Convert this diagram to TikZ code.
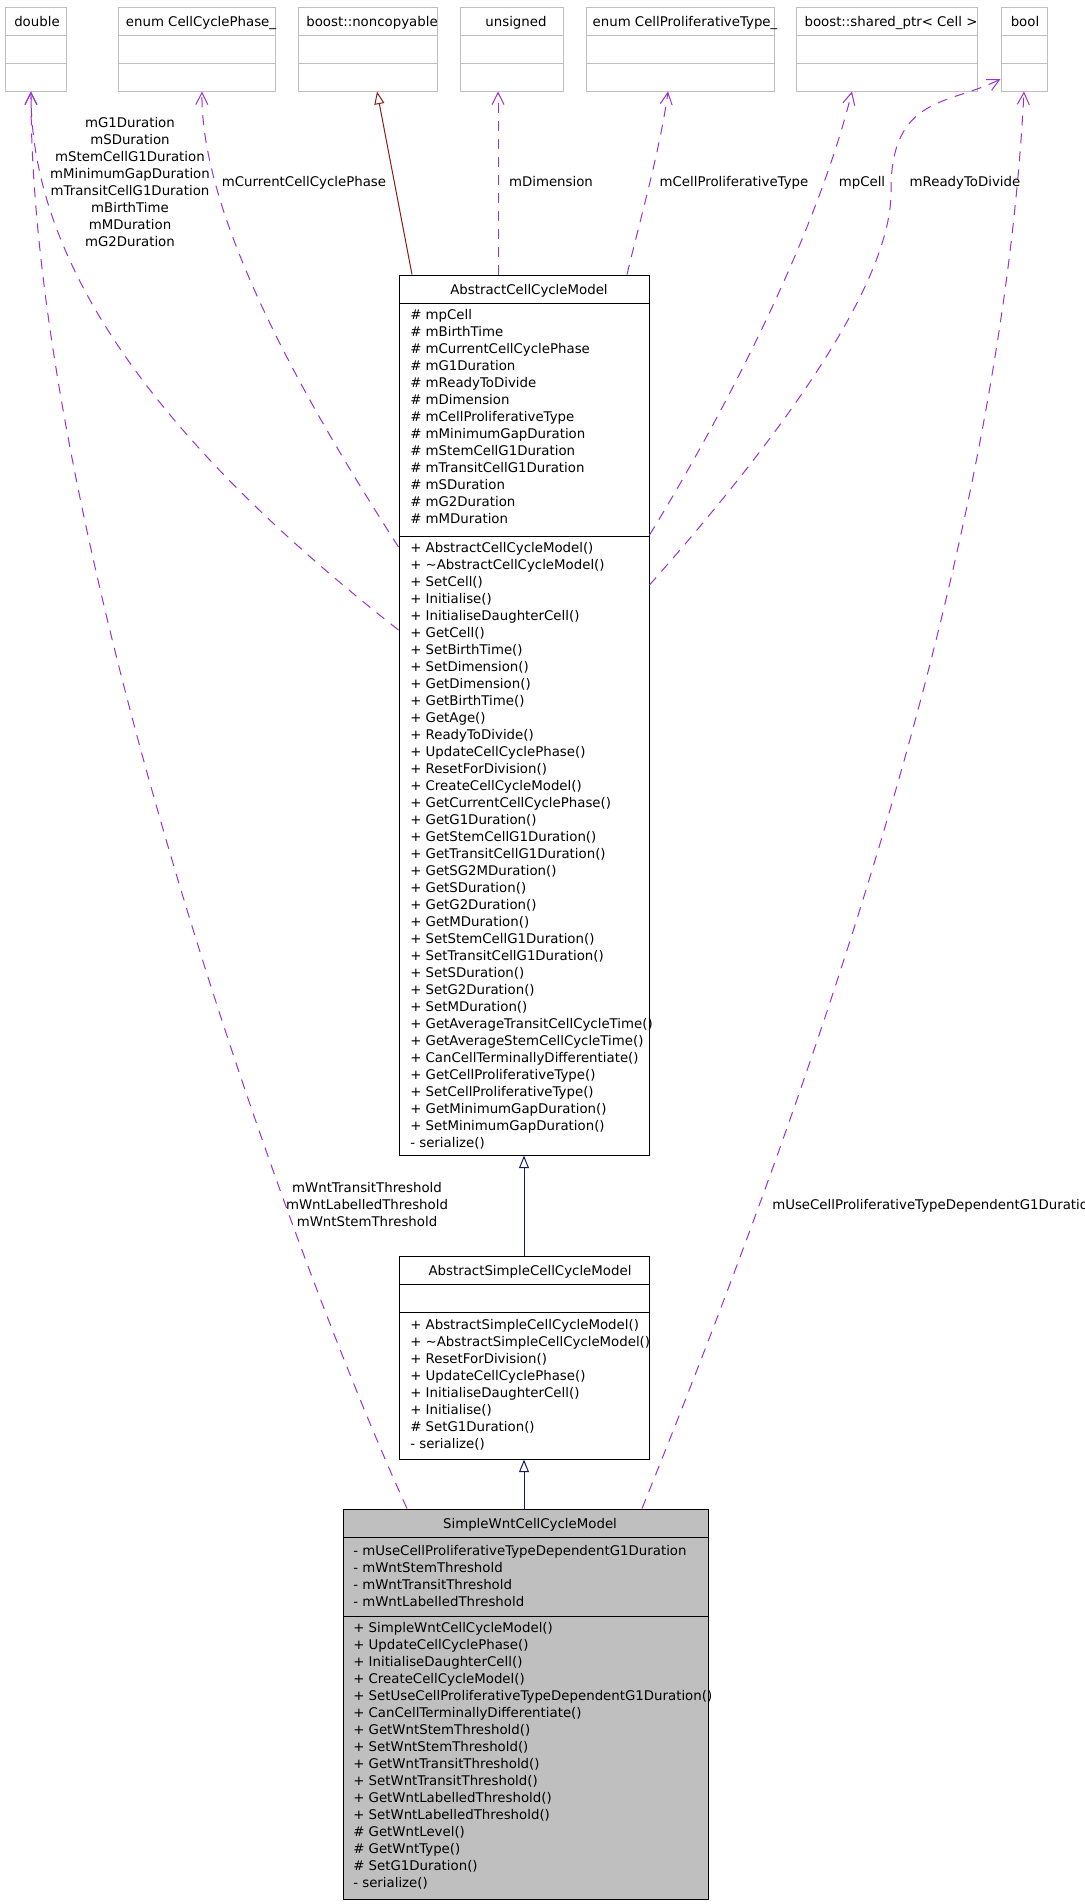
\documentclass[tikz,border=0pt]{standalone}
\usepackage{fontspec}
\setmainfont{DejaVu Sans}
\usepackage{tikz}
\usetikzlibrary{arrows.meta,fit}

\definecolor{edgepurple}{HTML}{9A32CD}
\definecolor{inhblue}{HTML}{191970}
\definecolor{inhred}{HTML}{8B1A1A}
\definecolor{boxgray}{HTML}{BFBFBF}

\begin{document}
\begin{tikzpicture}[x=0.75pt, y=-0.75pt, font=\fontsize{10}{12.75}\selectfont,
    classbox/.style={draw=black, line width=0.75pt, inner sep=0pt},
    typebox/.style={draw=boxgray, line width=0.75pt, inner sep=0pt},
    clsname/.style={anchor=base, inner sep=0pt},
    member/.style={anchor=base west, inner sep=0pt},
    lbl/.style={align=center, inner sep=0pt},
    uses/.style={edgepurple, line width=0.75pt, dash pattern=on 7.5pt off 6pt,
        -{Straight Barb[length=9pt, width=9pt]}},
    inherits/.style={line width=0.75pt, -{Triangle[open, length=9.5pt, width=7.5pt, fill=white]}}]
    \useasboundingbox (0,0) rectangle (1085,1904);

    % Member types along the top
    \node[typebox, fit={(5,7) (66,91)}] (dbl) {};
    \node[typebox, fit={(118,7) (275,91)}] (ccp) {};
    \node[typebox, fit={(298,7) (437,91)}] (nc) {};
    \node[typebox, fit={(460,7) (563,91)}] (uns) {};
    \node[typebox, fit={(586,7) (774,91)}] (cpt) {};
    \node[typebox, fit={(796,7) (977,91)}] (shp) {};
    \node[typebox, fit={(1001,7) (1047,91)}] (boolt) {};
    \foreach \b in {dbl,ccp,nc,uns,cpt,shp,boolt}
        \draw[boxgray, line width=0.75pt] (\b.west |- 0,35) -- (\b.east |- 0,35)
            (\b.west |- 0,63) -- (\b.east |- 0,63);
    \node[clsname] (dbl-name) at (37,26) {double};
    \node[clsname] (ccp-name) at (201,26) {enum CellCyclePhase\_};
    \node[clsname] (nc-name) at (372,26) {boost::noncopyable};
    \node[clsname] (uns-name) at (516,26) {unsigned};
    \node[clsname] (cpt-name) at (685,26) {enum CellProliferativeType\_};
    \node[clsname] (shp-name) at (891,26) {boost::shared\_ptr< Cell >};
    \node[clsname] (boolt-name) at (1025,26) {bool};

    % AbstractCellCycleModel
    \node[classbox, fit={(399,275) (649,1155)}] (acm) {};
    \draw[line width=0.75pt] (acm.west |- 0,303) -- (acm.east |- 0,303)
        (acm.west |- 0,536) -- (acm.east |- 0,536);
    \node[clsname] (acm-name) at (529,294) {AbstractCellCycleModel};
    \foreach \m [count=\i from 0] in {\# mpCell, \# mBirthTime, \# mCurrentCellCyclePhase,
        \# mG1Duration, \# mReadyToDivide, \# mDimension, \# mCellProliferativeType,
        \# mMinimumGapDuration, \# mStemCellG1Duration, \# mTransitCellG1Duration,
        \# mSDuration, \# mG2Duration, \# mMDuration}
        \node[member] (acm-a\i) at (410,{319+17*\i}) {\m};
    \foreach \m [count=\i from 0] in {+ AbstractCellCycleModel(),
        + \textasciitilde AbstractCellCycleModel(), + SetCell(), + Initialise(),
        + InitialiseDaughterCell(), + GetCell(), + SetBirthTime(), + SetDimension(),
        + GetDimension(), + GetBirthTime(), + GetAge(), + ReadyToDivide(),
        + UpdateCellCyclePhase(), + ResetForDivision(), + CreateCellCycleModel(),
        + GetCurrentCellCyclePhase(), + GetG1Duration(), + GetStemCellG1Duration(),
        + GetTransitCellG1Duration(), + GetSG2MDuration(), + GetSDuration(),
        + GetG2Duration(), + GetMDuration(), + SetStemCellG1Duration(),
        + SetTransitCellG1Duration(), + SetSDuration(), + SetG2Duration(),
        + SetMDuration(), + GetAverageTransitCellCycleTime(),
        + GetAverageStemCellCycleTime(), + CanCellTerminallyDifferentiate(),
        + GetCellProliferativeType(), + SetCellProliferativeType(),
        + GetMinimumGapDuration(), + SetMinimumGapDuration(), - serialize()}
        \node[member] (acm-m\i) at (410,{552+17*\i}) {\m};

    % AbstractSimpleCellCycleModel
    \node[classbox, fit={(399,1256) (649,1459)}] (ascc) {};
    \draw[line width=0.75pt] (ascc.west |- 0,1284) -- (ascc.east |- 0,1284)
        (ascc.west |- 0,1312) -- (ascc.east |- 0,1312);
    \node[clsname] (ascc-name) at (530,1275) {AbstractSimpleCellCycleModel};
    \foreach \m [count=\i from 0] in {+ AbstractSimpleCellCycleModel(),
        + \textasciitilde AbstractSimpleCellCycleModel(), + ResetForDivision(),
        + UpdateCellCyclePhase(), + InitialiseDaughterCell(), + Initialise(),
        \# SetG1Duration(), - serialize()}
        \node[member] (ascc-m\i) at (410,{1329+17*\i}) {\m};

    % SimpleWntCellCycleModel
    \node[classbox, fill=boxgray, fit={(343,1509) (708,1899)}] (swc) {};
    \draw[line width=0.75pt] (swc.west |- 0,1537) -- (swc.east |- 0,1537)
        (swc.west |- 0,1616) -- (swc.east |- 0,1616);
    \node[clsname] (swc-name) at (530,1528) {SimpleWntCellCycleModel};
    \foreach \m [count=\i from 0] in {- mUseCellProliferativeTypeDependentG1Duration,
        - mWntStemThreshold, - mWntTransitThreshold, - mWntLabelledThreshold}
        \node[member] (swc-a\i) at (353,{1555+17*\i}) {\m};
    \foreach \m [count=\i from 0] in {+ SimpleWntCellCycleModel(), + UpdateCellCyclePhase(),
        + InitialiseDaughterCell(), + CreateCellCycleModel(),
        + SetUseCellProliferativeTypeDependentG1Duration(),
        + CanCellTerminallyDifferentiate(), + GetWntStemThreshold(),
        + SetWntStemThreshold(), + GetWntTransitThreshold(), + SetWntTransitThreshold(),
        + GetWntLabelledThreshold(), + SetWntLabelledThreshold(), \# GetWntLevel(),
        \# GetWntType(), \# SetG1Duration(), - serialize()}
        \node[member] (swc-m\i) at (353,{1632+17*\i}) {\m};

    % Inheritance
    \draw[inherits, inhred] (412,0 |- acm.north) -- (377,0 |- nc.south);
    \draw[inherits, inhblue] (ascc.north) -- (acm.south);
    \draw[inherits, inhblue] (ascc.south |- swc.north) -- (ascc.south);

    % Member usage
    \draw[uses] (acm.west |- 0,630) .. controls (220,490) and (30,300) .. (31,0 |- dbl.south);
    \draw[uses] (407,0 |- swc.north) .. controls (280,1230) and (30,520) .. (31,0 |- dbl.south);
    \draw[uses] (acm.west |- 0,547) .. controls (330,440) and (200,230) .. (202,0 |- ccp.south);
    \draw[uses] (498,0 |- acm.north) -- (498,0 |- uns.south);
    \draw[uses] (627,0 |- acm.north) .. controls (640,220) and (660,150) .. (668,0 |- cpt.south);
    \draw[uses] (acm.east |- 0,535) .. controls (720,420) and (815,240) .. (852,0 |- shp.south);
    \draw[uses] (acm.east |- 0,585) .. controls (760,460) and (893,290) .. (891,190)
        .. controls (891,95) and (950,105) .. (boolt.west |- 0,79);
    \draw[uses] (642,0 |- swc.north) .. controls (826,1054) and (1001,541) .. (boolt.south);

    % Edge labels
    \node[lbl] (lbl-dbl) at (130,182) {mG1Duration\\mSDuration\\mStemCellG1Duration\\
        mMinimumGapDuration\\mTransitCellG1Duration\\mBirthTime\\mMDuration\\mG2Duration};
    \node[lbl, anchor=base] (lbl-ccp) at (304,186) {mCurrentCellCyclePhase};
    \node[lbl, anchor=base] (lbl-uns) at (551,186) {mDimension};
    \node[lbl, anchor=base] (lbl-cpt) at (734,186) {mCellProliferativeType};
    \node[lbl, anchor=base] (lbl-shp) at (862,186) {mpCell};
    \node[lbl, anchor=base] (lbl-bool) at (965,186) {mReadyToDivide};
    \node[lbl] (lbl-wnt) at (367,1205) {mWntTransitThreshold\\mWntLabelledThreshold\\mWntStemThreshold};
    \node[lbl, anchor=base west] (lbl-use) at (772,1209) {mUseCellProliferativeTypeDependentG1Duration};
\end{tikzpicture}
\end{document}
